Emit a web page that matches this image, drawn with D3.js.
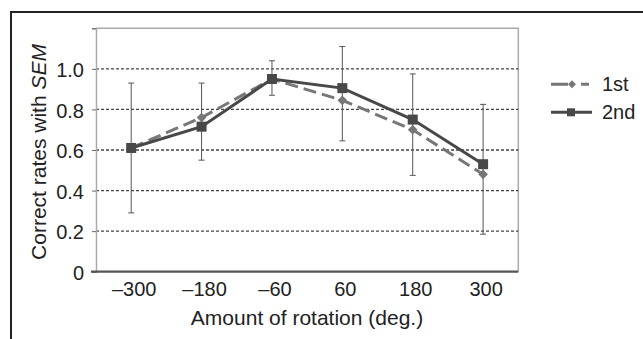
<!DOCTYPE html>
<html>
<head>
<meta charset="utf-8">
<script src="https://cdn.jsdelivr.net/npm/d3@7"></script>
<style>
  body { margin: 0; background: #fff; }
  svg { display: block; font-family: "Liberation Sans", Arial, sans-serif; }
</style>
</head>
<body>
<svg width="643" height="339"></svg>
<script>
// categories (rotation, deg.)
var categories = ["–300", "–180", "–60", "60", "180", "300"];
var firstRates  = [0.61, 0.76, 0.95, 0.845, 0.70, 0.48];
var secondRates = [0.61, 0.715, 0.95, 0.905, 0.75, 0.53];
// SEM bars
var errLow  = [0.29, 0.55, 0.87, 0.645, 0.475, 0.185];
var errHigh = [0.93, 0.93, 1.04, 1.11, 0.975, 0.825];
var yTicks = [0, 0.2, 0.4, 0.6, 0.8, 1.0, 1.2];
var seriesNames = ["1st", "2nd"];

var svg = d3.select("svg");

// outer frame (top + left only)
svg.append("path")
    .attr("d", "M11,339V12H643")
    .attr("fill", "none")
    .attr("stroke", "#222")
    .attr("stroke-width", 2);

var x = d3.scaleBand().domain(categories).range([96, 518.3]).padding(0);
var y = d3.scaleLinear().domain([0, 1.2]).range([271.7, 28.3]);

var g = svg.append("g");

// plot border top/right
g.append("path")
    .attr("d", "M96," + y(1.2) + "H" + x.range()[1] + "V" + y(0))
    .attr("fill", "none")
    .attr("stroke", "#aaa")
    .attr("stroke-width", 1.5);

// dashed gridlines
g.append("g")
    .selectAll("line")
    .data(yTicks.filter(d => d > 0 && d < 1.2))
    .join("line")
      .attr("x1", x.range()[0]).attr("x2", x.range()[1])
      .attr("y1", d => y(d)).attr("y2", d => y(d))
      .attr("stroke", "#444")
      .attr("stroke-width", 1.3)
      .attr("stroke-dasharray", "3,2");

// y axis
var yAxis = g.append("g")
    .attr("transform", "translate(96,0)")
    .call(d3.axisLeft(y).tickValues(yTicks).tickSize(4).tickPadding(8)
        .tickFormat(d => d === 0 ? "0" : (d > 1.1 ? "" : d3.format(".1f")(d))));
yAxis.select(".domain").attr("stroke", "#aaa").attr("stroke-width", 1.5);
yAxis.selectAll(".tick line").attr("stroke", "#666");
yAxis.selectAll("text")
    .attr("font-size", 20)
    .attr("fill", "#222")
    .attr("font-family", "Liberation Sans, Arial, sans-serif")
    .attr("dy", "0.38em");

// x axis
var xAxis = g.append("g")
    .attr("transform", "translate(0," + y(0) + ")")
    .call(d3.axisBottom(x).tickSize(0).tickPadding(10));
xAxis.select(".domain")
    .attr("d", "M91,0H" + x.range()[1])
    .attr("stroke", "#555")
    .attr("stroke-width", 2.2);
xAxis.selectAll("text")
    .attr("font-size", 20)
    .attr("fill", "#222")
    .attr("font-family", "Liberation Sans, Arial, sans-serif")
    .attr("dx", 3);

// axis titles
g.append("text")
    .attr("x", 307).attr("y", 325)
    .attr("text-anchor", "middle")
    .attr("font-size", 21)
    .attr("fill", "#222")
    .text("Amount of rotation (deg.)");

var yt = g.append("text")
    .attr("transform", "translate(46,152) rotate(-90)")
    .attr("text-anchor", "middle")
    .attr("font-size", 21)
    .attr("fill", "#222");
yt.append("tspan").text("Correct rates with ");
yt.append("tspan").attr("font-style", "italic").text("SEM");

// error bars
var cx = d => x(d) + x.bandwidth() / 2;
var eb = g.append("g").attr("stroke", "#555").attr("stroke-width", 1);
categories.forEach(function(c, i) {
    eb.append("line").attr("x1", cx(c)).attr("x2", cx(c))
        .attr("y1", y(errLow[i])).attr("y2", y(errHigh[i]));
    [errLow[i], errHigh[i]].forEach(function(v) {
        eb.append("line").attr("x1", cx(c) - 3).attr("x2", cx(c) + 3)
            .attr("y1", y(v)).attr("y2", y(v));
    });
});

var line = d3.line().x((d, i) => cx(categories[i])).y(d => y(d));

// 1st: dashed, diamonds
g.append("path")
    .attr("d", line(firstRates))
    .attr("fill", "none")
    .attr("stroke", "#777")
    .attr("stroke-width", 3)
    .attr("stroke-dasharray", "13,6");
g.append("g").selectAll("path")
    .data(firstRates)
    .join("path")
      .attr("d", d3.symbol(d3.symbolDiamond2, 60))
      .attr("transform", (d, i) => "translate(" + cx(categories[i]) + "," + y(d) + ")")
      .attr("fill", "#777");

// 2nd: solid, squares
g.append("path")
    .attr("d", line(secondRates))
    .attr("fill", "none")
    .attr("stroke", "#484848")
    .attr("stroke-width", 3);
g.append("g").selectAll("rect")
    .data(secondRates)
    .join("rect")
      .attr("x", (d, i) => cx(categories[i]) - 5)
      .attr("y", d => y(d) - 5)
      .attr("width", 10).attr("height", 10)
      .attr("fill", "#484848");

// legend
var leg = svg.append("g");
leg.append("line").attr("x1", 551).attr("x2", 590).attr("y1", 84.3).attr("y2", 84.3)
    .attr("stroke", "#777").attr("stroke-width", 3).attr("stroke-dasharray", "17,13,8");
leg.append("path").attr("d", d3.symbol(d3.symbolDiamond2, 40))
    .attr("transform", "translate(572,84.3)").attr("fill", "#777");
leg.append("line").attr("x1", 551).attr("x2", 592).attr("y1", 112.3).attr("y2", 112.3)
    .attr("stroke", "#484848").attr("stroke-width", 3);
leg.append("rect").attr("x", 567).attr("y", 108.3).attr("width", 8).attr("height", 8)
    .attr("fill", "#484848");
leg.selectAll("text")
    .data(seriesNames)
    .join("text")
      .attr("x", 602)
      .attr("y", (d, i) => 84.3 + i * 28 + 7)
      .attr("font-size", 20)
      .attr("fill", "#222")
      .text(d => d);
</script>
</body>
</html>
